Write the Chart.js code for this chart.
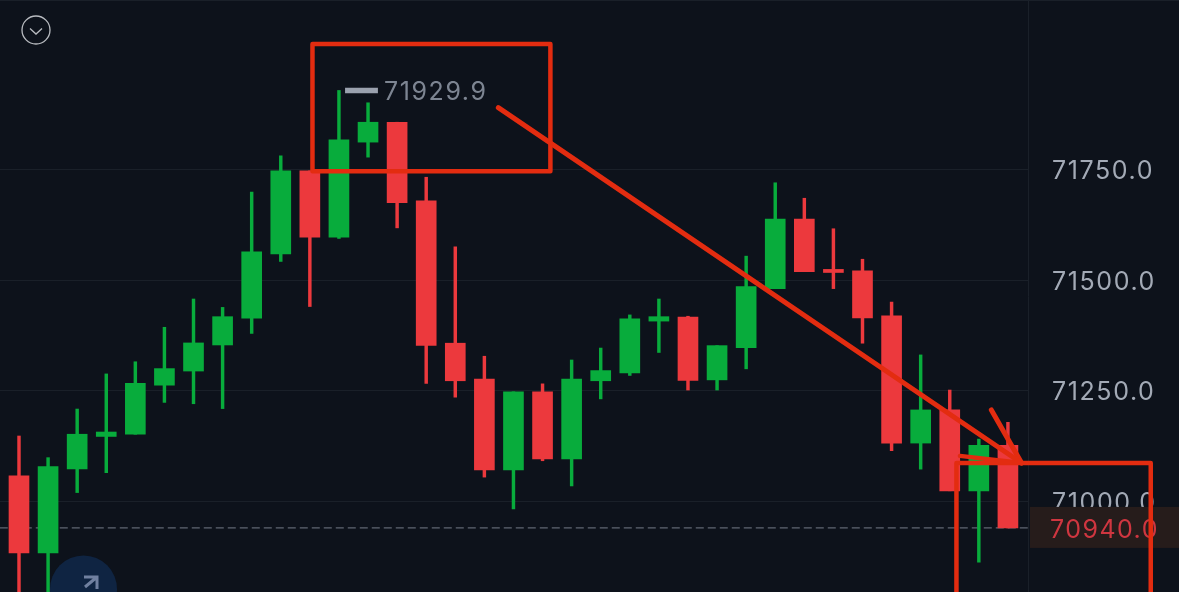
<!DOCTYPE html>
<html>
<head>
<meta charset="utf-8">
<style>
  html, body { margin: 0; padding: 0; background: #0d121b; overflow: hidden; }
  canvas { display: block; }
</style>
<script src="https://cdn.jsdelivr.net/npm/chart.js@4/dist/chart.umd.min.js"></script>
</head>
<body>
<canvas id="klineChart" width="1179" height="592"></canvas>
<script>
const opens = [71058, 70883.5, 71073.5, 71147, 71152, 71263, 71295, 71354, 71414.5, 71560, 71748, 71598, 71813, 71858, 71680, 71358, 71277, 71071, 71248, 71096, 71273, 71291, 71408, 71417, 71275, 71348, 71481.5, 71639, 71525, 71522, 71420, 71132, 71207, 71024, 71127];
const closes = [70883.5, 71079, 71152, 71157, 71267, 71300.5, 71358.6, 71418, 71564.5, 71748, 71598, 71818, 71858, 71676, 71353, 71273, 71071, 71248, 71096, 71277, 71296, 71413, 71418, 71274, 71352.5, 71486, 71639, 71520, 71518, 71415, 71132, 71207, 71024, 71127, 70940];
const highs = [71148, 71099, 71209, 71288.5, 71316, 71394, 71458, 71439, 71700, 71782, 71748, 71929.9, 71902, 71858, 71733.5, 71576, 71328.5, 71248, 71266, 71320, 71347, 71422, 71458, 71419, 71352.5, 71555, 71721, 71686, 71617, 71548, 71451, 71331.5, 71252, 71141, 71179];
const lows = [70780, 70770, 71020, 71065, 71152, 71224, 71221, 71210, 71380, 71543, 71441, 71595, 71779, 71619, 71267, 71236, 71055, 70983, 71092, 71035, 71232, 71285, 71337, 71252, 71252, 71300, 71481.5, 71520, 71481.5, 71358, 71115, 71073, 71024, 70862.5, 70940];

const tickValues = [71000, 71250, 71500, 71750];
const lastPrice = 70940;
const highestPrice = 71929.9;

// hand drawn marks on top of the chart, in candle index / price units
const boxOneX = [10.09, 18.27, 18.27, 10.09, 10.09];
const boxOneY = [72035, 72035, 71747, 71747, 72035];
const boxTwoX = [38.91, 38.91, 32.23, 32.23];
const boxTwoY = [70780, 71087, 71087, 70780];
const arrowX = [16.48, 34.47];
const arrowY = [71891, 71087];
const arrowHeadOneX = [33.43, 34.47];
const arrowHeadOneY = [71207, 71087];
const arrowHeadTwoX = [32.35, 34.47];
const arrowHeadTwoY = [71103, 71087];
const highMarkerX = [11.21, 12.34];

const GREEN = "#08ac3c";
const RED = "#ec393d";
const MARK_RED = "#e32c10";
const FONT = "Inter";

function toPoints(xs, ys) {
  return xs.map((x, i) => ({ x: x, y: ys[i] }));
}

function candleColors() {
  return closes.map((close, i) => (close >= opens[i] ? GREEN : RED));
}

function markDataset(xs, ys, width) {
  return {
    type: "line",
    data: toPoints(xs, ys),
    borderColor: MARK_RED,
    borderWidth: width,
    borderCapStyle: "round",
    borderJoinStyle: "round",
    pointRadius: 0,
    tension: 0,
    clip: false,
    order: 0
  };
}

const overlayPlugin = {
  id: "overlay",
  beforeDraw(chart) {
    // axis labels are tracked out wider than the font's default
    chart.ctx.letterSpacing = "1.6px";
  },
  beforeDatasetsDraw(chart) {
    let ctx = chart.ctx;
    let yScale = chart.scales.y;
    let xScale = chart.scales.x;
    let area = chart.chartArea;
    ctx.save();

    // top edge of the panel
    ctx.fillStyle = "#1a2029";
    ctx.fillRect(0, 0, chart.width, 1);

    // last price tag covers the axis label under it
    let lastY = yScale.getPixelForValue(lastPrice);
    ctx.fillStyle = "#261c1b";
    ctx.fillRect(area.right + 2, lastY - 21, chart.width - area.right, 41);
    ctx.fillStyle = "#cf3640";
    ctx.font = "25px " + FONT;
    ctx.letterSpacing = "1.46px";
    ctx.textAlign = "left";
    ctx.textBaseline = "middle";
    ctx.fillText(lastPrice.toFixed(1), area.right + 22, lastY + 2.5);

    // highest price label
    ctx.fillStyle = "#7d8592";
    ctx.letterSpacing = "1.6px";
    ctx.fillText(highestPrice.toFixed(1), xScale.getPixelForValue(highMarkerX[1]) + 6, yScale.getPixelForValue(highestPrice) + 2);

    // collapse button
    ctx.strokeStyle = "#b9bcc1";
    ctx.lineWidth = 1.3;
    ctx.beginPath();
    ctx.arc(36, 30, 14, 0, Math.PI * 2);
    ctx.stroke();
    ctx.beginPath();
    ctx.moveTo(30, 28.5);
    ctx.lineTo(36, 34);
    ctx.lineTo(42, 28.5);
    ctx.stroke();

    // jump to latest button
    ctx.fillStyle = "#0f2442";
    ctx.beginPath();
    ctx.arc(83.5, 589, 33.5, 0, Math.PI * 2);
    ctx.fill();
    ctx.strokeStyle = "#7080a0";
    ctx.lineWidth = 3;
    ctx.beginPath();
    ctx.moveTo(85, 587);
    ctx.lineTo(97, 577);
    ctx.moveTo(84, 577);
    ctx.lineTo(97, 577);
    ctx.lineTo(97, 589);
    ctx.stroke();

    ctx.restore();
  }
};

function createChart() {
  let ctx = document.getElementById("klineChart");
  let colors = candleColors();
  new Chart(ctx, {
    type: "bar",
    data: {
      datasets: [
        markDataset(boxOneX, boxOneY, 4.5),
        markDataset(boxTwoX, boxTwoY, 4.5),
        markDataset(arrowX, arrowY, 5),
        markDataset(arrowHeadOneX, arrowHeadOneY, 5),
        markDataset(arrowHeadTwoX, arrowHeadTwoY, 4.5),
        {
          data: closes.map((close, i) => ({ x: i, y: [opens[i], close] })),
          backgroundColor: colors,
          barThickness: 20,
          grouped: false,
          order: 1
        },
        {
          data: highs.map((high, i) => ({ x: i, y: [lows[i], high] })),
          backgroundColor: colors,
          barThickness: 2.8,
          grouped: false,
          clip: false,
          order: 2
        },
        {
          type: "line",
          data: toPoints([-0.66, 34.69], [lastPrice, lastPrice]),
          borderColor: "#757c88",
          borderWidth: 1,
          borderDash: [8, 4],
          pointRadius: 0,
          order: 3
        },
        {
          type: "line",
          data: toPoints(highMarkerX, [highestPrice, highestPrice]),
          borderColor: "#9aa1ae",
          borderWidth: 5.5,
          pointRadius: 0,
          order: 3
        }
      ]
    },
    options: {
      responsive: false,
      animation: false,
      devicePixelRatio: 1,
      layout: { padding: 0 },
      plugins: { legend: { display: false }, tooltip: { enabled: false } },
      scales: {
        x: {
          type: "linear",
          display: false,
          offset: false,
          min: -0.653,
          max: 34.69
        },
        y: {
          position: "right",
          min: 70795,
          max: 72134.6,
          afterFit(scale) {
            scale.width = 151;
            scale.paddingTop = 0;
            scale.paddingBottom = 0;
          },
          afterBuildTicks(scale) {
            scale.ticks = tickValues.map(value => ({ value: value }));
          },
          grid: { color: "#1a2029", lineWidth: 1, drawTicks: false },
          border: { color: "#1a2029", width: 1 },
          ticks: {
            color: "#a3aab6",
            padding: 24,
            // blank first line + small line height nudges the label down onto its grid line
            font: { family: FONT, size: 25, lineHeight: "4px" },
            callback: value => ["", value.toFixed(1)]
          }
        }
      }
    },
    plugins: [overlayPlugin]
  });
}

createChart();
</script>
</body>
</html>
